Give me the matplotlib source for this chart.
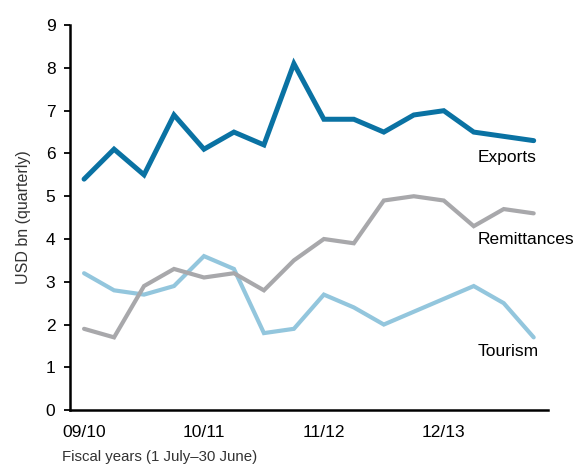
import matplotlib
matplotlib.use('Agg')
import matplotlib.pyplot as plt
import numpy as np

plt.rcParams['font.family'] = ['Liberation Sans', 'DejaVu Sans']

# quarterly values, USD bn
exports = [5.4, 6.1, 5.5, 6.9, 6.1, 6.5, 6.2, 8.1, 6.8, 6.8, 6.5, 6.9, 7.0, 6.5, 6.4, 6.3]
remittances = [1.9, 1.7, 2.9, 3.3, 3.1, 3.2, 2.8, 3.5, 4.0, 3.9, 4.9, 5.0, 4.9, 4.3, 4.7, 4.6]
tourism = [3.2, 2.8, 2.7, 2.9, 3.6, 3.3, 1.8, 1.9, 2.7, 2.4, 2.0, 2.3, 2.6, 2.9, 2.5, 1.7]
year_labels = ['09/10', '10/11', '11/12', '12/13']

x = np.arange(len(exports))

fig = plt.figure(figsize=(5.76, 4.66), dpi=100)
ax = fig.add_axes([0.1215, 0.12, 0.8295, 0.826])

ax.plot(x, tourism, color='#93c6dd', lw=3.0, solid_capstyle='round', solid_joinstyle='miter')
ax.plot(x, remittances, color='#a8a8ab', lw=3.0, solid_capstyle='round', solid_joinstyle='miter')
ax.plot(x, exports, color='#0a72a3', lw=3.6, solid_capstyle='round', solid_joinstyle='miter')

ax.text(13.13, 5.9, 'Exports', fontsize=12.5, va='center', ha='left')
ax.text(13.13, 4.0, 'Remittances', fontsize=12.5, va='center', ha='left')
ax.text(13.13, 1.37, 'Tourism', fontsize=12.5, va='center', ha='left')

ax.set_xlim(-0.47, 15.47)
ax.set_ylim(0, 9)
ax.set_yticks(range(0, 10))
ax.set_xticks([0, 4, 8, 12])
ax.set_xticklabels(year_labels)

for s in ['top', 'right']:
    ax.spines[s].set_visible(False)
for s in ['left', 'bottom']:
    ax.spines[s].set_linewidth(1.8)

ax.tick_params(axis='y', direction='out', length=4.5, width=1.3, labelsize=12.5, pad=6)
ax.tick_params(axis='x', length=0, labelsize=12.5, pad=11)

ax.set_ylabel('USD bn (quarterly)', fontsize=11.5, color='#333333')
ax.yaxis.set_label_coords(-0.082, 0.5)

fig.text(0.108, 0.019, 'Fiscal years (1 July\u201330 June)', fontsize=10.8, ha='left', va='center', color='#333333')

fig.savefig('out.png', dpi=100)
